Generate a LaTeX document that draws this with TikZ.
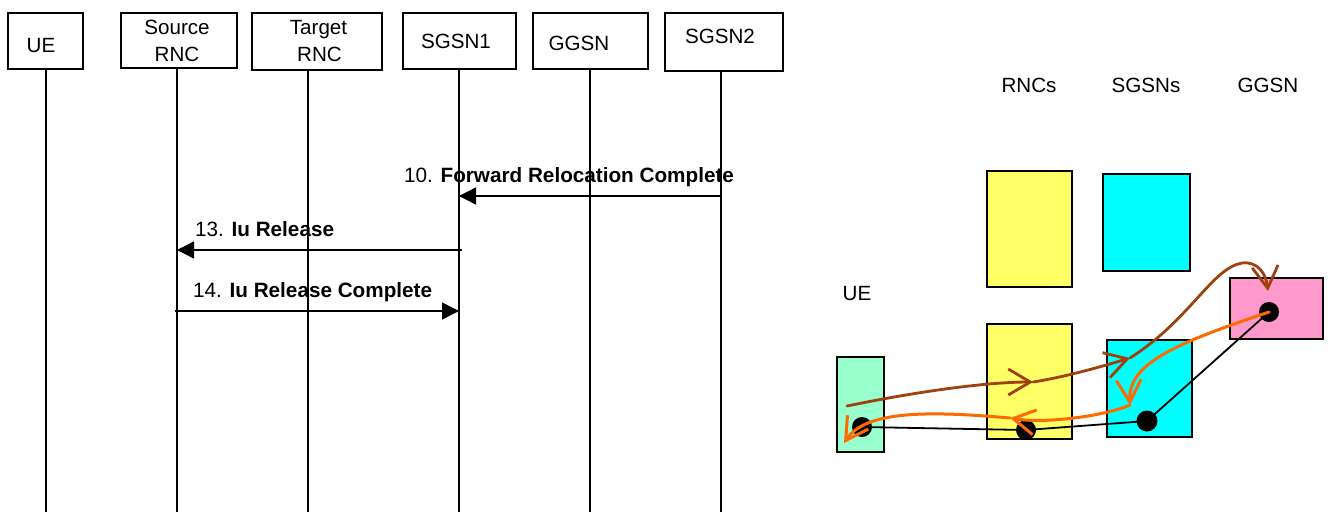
\documentclass[tikz,border=0pt]{standalone}
\usepackage{fontspec}
\setmainfont{Liberation Sans}
\usetikzlibrary{arrows.meta}
\definecolor{yel}{HTML}{FFFF66}
\definecolor{cya}{HTML}{00FFFF}
\definecolor{pnk}{HTML}{FF99CC}
\definecolor{grn}{HTML}{99FFCC}
\definecolor{brn}{HTML}{A0400C}
\definecolor{org}{HTML}{FF6A00}
\begin{document}
\begin{tikzpicture}[x=1pt,y=-1pt,
  font=\fontsize{20.6}{27}\selectfont,
  hdr/.style={draw, line width=1.6pt, inner sep=0pt},
  txt/.style={anchor=base, inner sep=0pt},
  life/.style={line width=1.6pt},
  msg/.style={line width=1.4pt, -{Triangle[length=17pt,width=17pt]}},
  lbl/.style={anchor=base west, inner sep=0pt, font=\fontsize{20.7}{25}\selectfont},
  blk/.style={draw, line width=2pt, inner sep=0pt},
  dot/.style={circle, fill=black, minimum size=20pt, inner sep=0pt},
  link/.style={line width=1.8pt},
  bcurve/.style={draw=brn, line width=2.8pt, line cap=round, -{Straight Barb[length=22pt,width=26pt,line width=2.8pt]}},
  ocurve/.style={draw=org, line width=3pt, line cap=round, -{Straight Barb[length=22pt,width=25pt,line width=3pt]}}
]
\useasboundingbox (0,0) rectangle (1332,512);

% ---- sequence chart: headers ----
\node[hdr, minimum width=75pt, minimum height=56pt] (ue) at (45.5,41) {};
\node[hdr, minimum width=116pt, minimum height=55pt] (srnc) at (179,40.5) {};
\node[hdr, minimum width=130pt, minimum height=57pt] (trnc) at (317,41.5) {};
\node[hdr, minimum width=113pt, minimum height=56pt] (sgsn1) at (459.5,41) {};
\node[hdr, minimum width=115pt, minimum height=56pt] (ggsn) at (590.5,41) {};
\node[hdr, minimum width=118pt, minimum height=58pt] (sgsn2) at (724,42) {};

\node[txt] at (41,52) {UE};
\node[txt] at (177,34) {Source};
\node[txt] at (177,61) {RNC};
\node[txt] at (318.5,34) {Target};
\node[txt] at (319.5,61) {RNC};
\node[txt] at (456,48) {SGSN1};
\node[txt] at (579,50) {GGSN};
\node[txt] at (720,43) {SGSN2};

% ---- lifelines ----
\coordinate (Lue) at (46,512);
\coordinate (Lsrnc) at (177,512);
\coordinate (Ltrnc) at (308,512);
\coordinate (Lsgsn1) at (459,512);
\coordinate (Lggsn) at (590,512);
\coordinate (Lsgsn2) at (721,512);
\draw[life] (Lue |- ue.south) -- (Lue);
\draw[life] (Lsrnc |- srnc.south) -- (Lsrnc);
\draw[life] (Ltrnc |- trnc.south) -- (Ltrnc);
\draw[life] (Lsgsn1 |- sgsn1.south) -- (Lsgsn1);
\draw[life] (Lggsn |- ggsn.south) -- (Lggsn);
\draw[life] (Lsgsn2 |- sgsn2.south) -- (Lsgsn2);

% ---- messages ----
\draw[msg] (Lsgsn2 |- 0,196) -- (Lsgsn1 |- 0,196);
\node[lbl] at (404,182) {10. \textbf{Forward Relocation Complete}};
\draw[msg] ([xshift=3pt]Lsgsn1 |- 0,250) -- (Lsrnc |- 0,250);
\node[lbl] at (195,236) {13. \textbf{Iu Release}};
\draw[msg] ([xshift=-2pt]Lsrnc |- 0,311) -- (Lsgsn1 |- 0,311);
\node[lbl] at (193,297) {14. \textbf{Iu Release Complete}};

% ---- right-hand picture ----
\node[txt] at (1029,92) {RNCs};
\node[txt] at (1146,92) {SGSNs};
\node[txt] at (1268,92) {GGSN};
\node[txt] at (857,300) {UE};

\node[blk, fill=yel, minimum width=85pt, minimum height=116pt] (rncA) at (1029.5,229) {};
\node[blk, fill=cya, minimum width=87pt, minimum height=97pt] (sgsnA) at (1146.5,222.5) {};
\node[blk, fill=grn, minimum width=47pt, minimum height=95pt] (ueB) at (860.5,404.5) {};
\node[blk, fill=yel, minimum width=85pt, minimum height=115pt] (rncB) at (1029.5,381.5) {};
\node[blk, fill=cya, minimum width=85pt, minimum height=97pt] (sgsnB) at (1149.5,388.5) {};
\node[blk, fill=pnk, minimum width=93pt, minimum height=61pt] (ggsnB) at (1276.5,308.5) {};

\draw[link] (862,427) coordinate (c1) -- (1026,430) coordinate (c2) -- (1147,421) coordinate (c3) -- (1269,312) coordinate (c4);
\node[dot] (d1) at (c1) {};
\node[dot] (d2) at (c2) {};
\node[dot, minimum size=21pt] (d3) at (c3) {};
\node[dot] (d4) at (c4) {};

% brown path
\coordinate (b0) at (847,406);
\coordinate (b1) at (1033,382);
\coordinate (b2) at (1130,358);
\coordinate (b3) at (1268,291);
\draw[bcurve] (b0) .. controls (915,392) and (985,382) .. (b1);
\draw[bcurve] (b1) .. controls (1065,377) and (1100,367) .. (b2);
\draw[bcurve] (b2) .. controls (1190,320) and (1212,268) .. (1242,263)
                  .. controls (1258,261) and (1266,274) .. (b3);

% orange path
\coordinate (o1) at (1130,405);
\coordinate (o2) at (1010,418);
\coordinate (o3) at (844,443);
\draw[ocurve] (d4.center) .. controls (1170,345) and (1128,365) .. (o1);
\draw[ocurve] (o1) .. controls (1105,416) and (1045,424) .. (o2);
\draw[ocurve] (o2) .. controls (930,411) and (866,410) .. (o3);
\end{tikzpicture}
\end{document}
